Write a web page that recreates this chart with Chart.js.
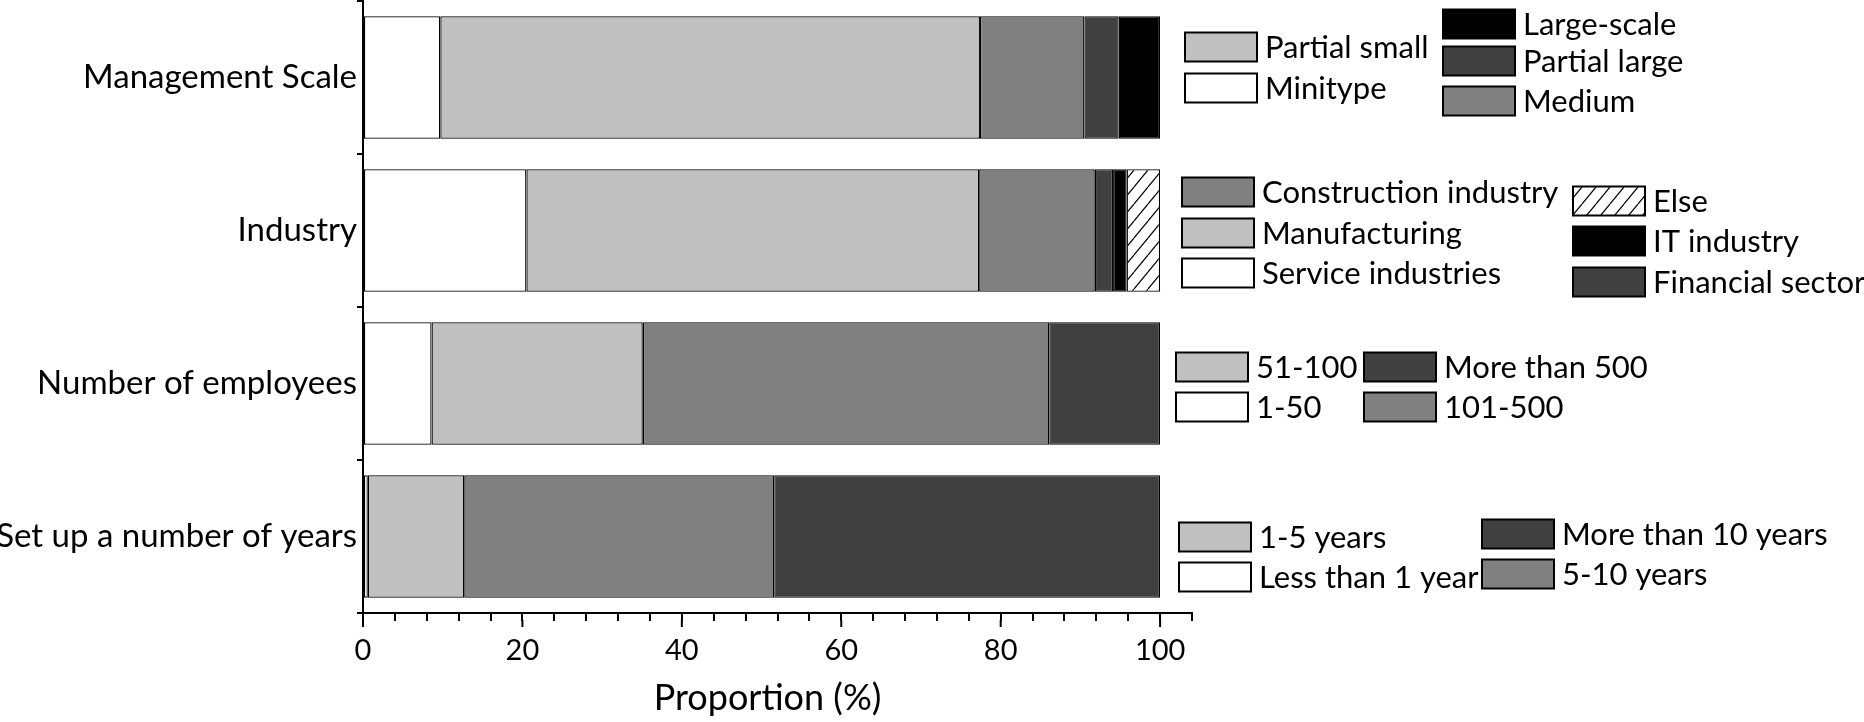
<!DOCTYPE html>
<html>
<head>
<meta charset="utf-8">
<script src="https://cdn.jsdelivr.net/npm/chart.js@4.4.1/dist/chart.umd.min.js"></script>
<style>
  html, body { margin: 0; padding: 0; background: #fff; }
  #wrap { width: 1864px; height: 722px; }
</style>
</head>
<body>
<div id="wrap"><canvas id="chart" width="1864" height="722"></canvas></div>
<script>
// categories and segment values (percent)
const categories = ["Management Scale", "Industry", "Number of employees", "Set up a number of years"]

const mgmtNames = ["Minitype", "Partial small", "Medium", "Partial large", "Large-scale"]
const mgmtValues = [9.7, 67.7, 13.1, 4.3, 5.2]

const industryNames = ["Service industries", "Manufacturing", "Construction industry", "Financial sector", "IT industry", "Else"]
const industryValues = [20.5, 56.8, 14.5, 2.3, 1.7, 4.2]

const employeeNames = ["1-50", "51-100", "101-500", "More than 500"]
const employeeValues = [8.6, 26.5, 51.0, 13.9]

const yearNames = ["Less than 1 year", "1-5 years", "5-10 years", "More than 10 years"]
const yearValues = [0.6, 12.1, 38.9, 48.4]

const xTickLabels = [0, 20, 40, 60, 80, 100]
const xTitle = "Proportion (%)"

const FONT = "Lato, 'Open Sans', sans-serif"

const canvas = document.getElementById("chart")
const ctx = canvas.getContext("2d")

function makeHatch() {
    const c = document.createElement("canvas")
    c.width = 14
    c.height = 17
    const g = c.getContext("2d")
    g.fillStyle = "#ffffff"
    g.fillRect(0, 0, 14, 17)
    g.strokeStyle = "#000000"
    g.lineWidth = 1.2
    for (const dx of [-14, 0, 14]) {
        g.beginPath()
        g.moveTo(dx, 17)
        g.lineTo(dx + 14, 0)
        g.stroke()
    }
    return ctx.createPattern(c, "repeat")
}

// fill by position in the stack (same shade order in every bar)
const fills = ["#ffffff", "#c0c0c0", "#808080", "#404040", "#000000", makeHatch()]

const allValues = [mgmtValues, industryValues, employeeValues, yearValues]
const allNames = [mgmtNames, industryNames, employeeNames, yearNames]

const datasets = fills.map((fill, k) => ({
    label: "segment " + (k + 1),
    data: allValues.map(v => (v[k] !== undefined ? v[k] : null)),
    backgroundColor: fill,
    borderColor: "#000000",
    borderWidth: 1.3,
    borderSkipped: false,
    categoryPercentage: 1,
    barPercentage: 0.8,
}))

// per-bar legends: [segment index, offset of box top from bar centre]
const legendLayout = [
    { cols: [ { x: 1185, items: [[1, -45], [0, -4]] },
              { x: 1443, items: [[4, -68], [3, -31], [2, 9]] } ] },
    { cols: [ { x: 1182, items: [[2, -53], [1, -12], [0, 28]] },
              { x: 1573, items: [[5, -44], [4, -4], [3, 37]] } ] },
    { cols: [ { x: 1176, items: [[1, -31], [0, 9]] },
              { x: 1364, items: [[3, -31], [2, 9]] } ] },
    { cols: [ { x: 1179, items: [[1, -14], [0, 26]] },
              { x: 1482, items: [[3, -17], [2, 23]] } ] },
]

const barLegends = {
    id: "barLegends",
    afterDraw(chart) {
        const c = chart.ctx
        const yScale = chart.scales.y
        c.save()
        c.font = "31px " + FONT
        c.textBaseline = "middle"
        c.textAlign = "left"
        legendLayout.forEach((group, i) => {
            const cy = yScale.getPixelForValue(i)
            group.cols.forEach(col => {
                col.items.forEach(([k, dy]) => {
                    const top = cy + dy
                    c.fillStyle = fills[k]
                    c.fillRect(col.x, top, 72, 29)
                    c.lineWidth = 2
                    c.strokeStyle = "#000"
                    c.strokeRect(col.x, top, 72, 29)
                    c.fillStyle = "#000"
                    c.fillText(allNames[i][k], col.x + 80, top + 15)
                })
            })
        })
        c.restore()
    }
}

const axisExtras = {
    id: "axisExtras",
    afterDraw(chart) {
        const c = chart.ctx
        const xs = chart.scales.x
        const base = chart.chartArea.bottom
        c.save()
        c.strokeStyle = "#000"
        c.lineWidth = 2
        xTickLabels.forEach(v => {
            const px = xs.getPixelForValue(v)
            c.beginPath()
            c.moveTo(px, base + 7)
            c.lineTo(px, base + 14)
            c.stroke()
        })
        c.font = "36px " + FONT
        c.fillStyle = "#000"
        c.textAlign = "center"
        c.textBaseline = "alphabetic"
        const mid = (xs.getPixelForValue(0) + xs.getPixelForValue(100)) / 2 + 6
        c.fillText(xTitle, mid, 710)
        c.restore()
    }
}

new Chart(ctx, {
    type: "bar",
    data: { labels: categories, datasets: datasets },
    options: {
        indexAxis: "y",
        responsive: false,
        animation: false,
        devicePixelRatio: 1,
        layout: { padding: { top: 1, right: 672, left: 0, bottom: 0 } },
        plugins: { legend: { display: false }, tooltip: { enabled: false } },
        scales: {
            x: {
                type: "linear",
                stacked: true,
                min: 0,
                max: 104,
                afterFit(scale) { scale.height = 109 },
                afterBuildTicks(scale) {
                    const t = []
                    for (let v = 0; v <= 104; v += 4) t.push({ value: v })
                    scale.ticks = t
                },
                border: { color: "#000", width: 2 },
                grid: { drawOnChartArea: false, color: "#000", lineWidth: 2, tickLength: 8 },
                ticks: {
                    autoSkip: false,
                    maxRotation: 0,
                    color: "#000",
                    padding: 12,
                    font: { family: FONT, size: 29 },
                    callback: v => (xTickLabels.includes(v) ? String(v) : "")
                }
            },
            y: {
                type: "category",
                stacked: true,
                afterFit(scale) {
                    scale.width = 363
                    scale.paddingTop = 0
                    scale.paddingBottom = 0
                },
                border: { color: "#000", width: 2 },
                grid: { drawOnChartArea: false, offset: true, color: "#000", lineWidth: 2, tickLength: 6 },
                ticks: {
                    color: "#000",
                    padding: 0,
                    font: { family: FONT, size: 33 }
                }
            }
        }
    },
    plugins: [barLegends, axisExtras]
})
</script>
</body>
</html>
